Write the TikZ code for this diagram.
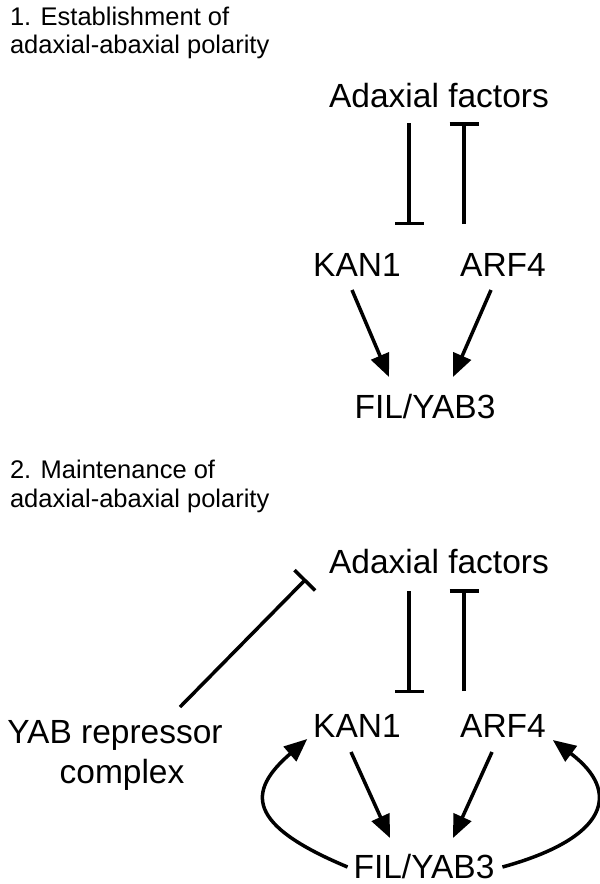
\documentclass[tikz,border=0pt]{standalone}
\usepackage{fontspec}
\setmainfont{Liberation Sans}
\usetikzlibrary{arrows.meta,calc}
\begin{document}
\begin{tikzpicture}[x=1pt,y=-1pt,
  big/.style={font=\fontsize{33.5}{40}\selectfont, inner sep=0pt, outer sep=0pt, anchor=base, text height=24pt, text depth=0pt},
  head/.style={font=\fontsize{25.5}{28}\selectfont, inner sep=0pt, outer sep=0pt, anchor=base west},
  conn/.style={line width=3.5pt, black},
  act/.style={conn, -{Triangle[length=23pt,width=19pt]}},
  inh/.style={conn, -{Bar[width=29pt]}}]
\useasboundingbox (0,0) rectangle (600,884);
\fill[white] (0,0) rectangle (600,884);

% ---------- Part 1 ----------
\node[head] (h1a) at (10,25) {1. Establishment of};
\node[head] (h1b) at (10,53) {adaxial-abaxial polarity};
\node[big] (adax1) at (439,107) {Adaxial factors};
\node[big] (kan1) at (357,276) {KAN1};
\node[big] (arf1) at (503,276) {ARF4};
\node[big] (fil1) at (425,418) {FIL/YAB3};

\draw[inh] ($(adax1.south)+(-30,16)$) -- ($(kan1.north)+(52,-27)$);
\draw[inh] ($(arf1.north)+(-39,-28)$) -- ($(adax1.south)+(25,15)$);
\draw[act] ($(kan1.south)+(-5,14)$) -- ($(fil1.north)+(-36,-17)$);
\draw[act] ($(arf1.south)+(-12,14)$) -- ($(fil1.north)+(28,-17)$);

% ---------- Part 2 ----------
\node[head] (h2a) at (10,478) {2. Maintenance of};
\node[head] (h2b) at (10,507) {adaxial-abaxial polarity};
\node[big] (adax2) at (439,573) {Adaxial factors};
\node[big] (kan2) at (357,737) {KAN1};
\node[big] (arf2) at (503,737) {ARF4};
\node[big] (fil2) at (424,878) {FIL/YAB3};
\node[big] (yab) at (115,743) {YAB repressor};
\node[big] (yabc) at (122,783) {complex};

\draw[inh] ($(yab.north)+(65,-12)$) -- ($(adax2.base)+(-133,6)$);
\draw[inh] ($(adax2.south)+(-30,18)$) -- ($(kan2.north)+(52,-20)$);
\draw[inh] ($(arf2.north)+(-39,-22)$) -- ($(adax2.south)+(25,16)$);
\draw[act] ($(kan2.south)+(-6,15)$) -- ($(fil2.north)+(-34,-16)$);
\draw[act] ($(arf2.south)+(-11,15)$) -- ($(fil2.north)+(29,-16)$);

\draw[act] ($(fil2.west)+(-6,1)$) .. controls (247,825) and (246,792) .. ($(kan2.base west)+(-6,2)$);
\draw[act] ($(fil2.east)+(8,1)$) .. controls (608,838) and (622,792) .. ($(arf2.base east)+(7,3)$);
\end{tikzpicture}
\end{document}
